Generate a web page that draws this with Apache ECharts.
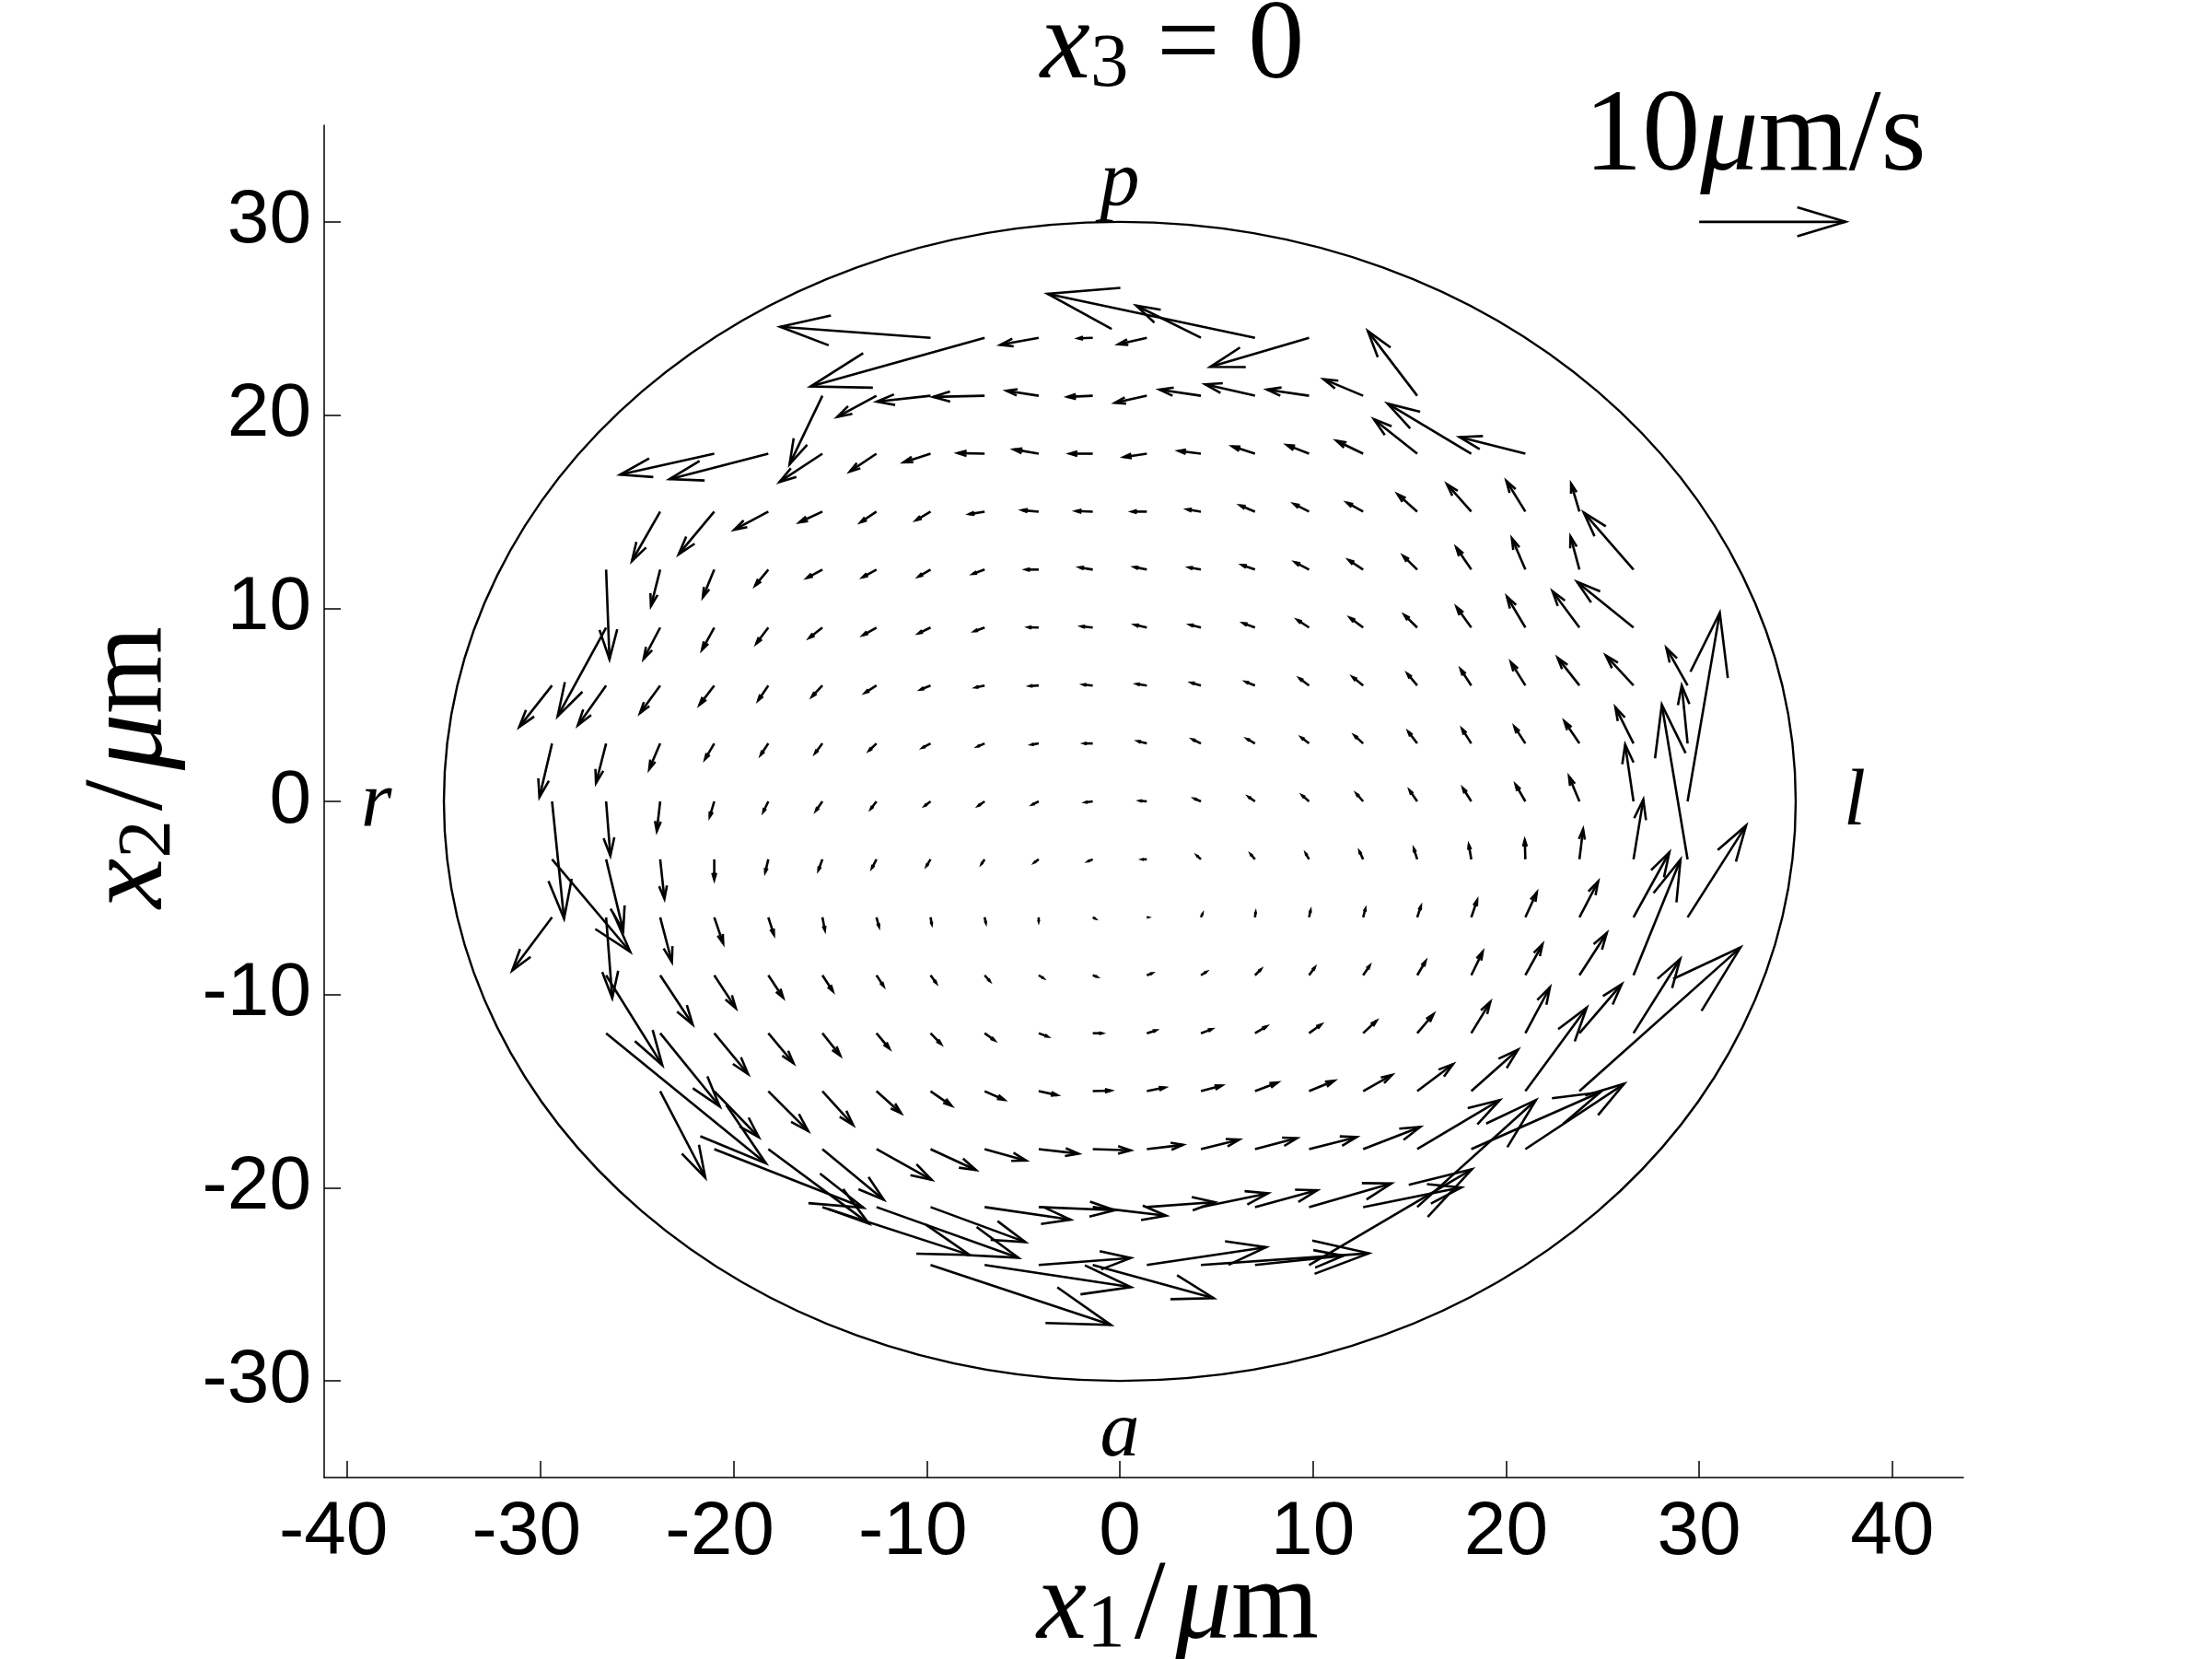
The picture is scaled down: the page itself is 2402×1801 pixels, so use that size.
<!DOCTYPE html>
<html>
<head>
<meta charset="utf-8">
<style>
  html, body { margin: 0; padding: 0; background: #fff; }
  #main { width: 2402px; height: 1801px; }
</style>
<script src="https://cdn.jsdelivr.net/npm/echarts@6/dist/echarts.min.js"></script>
</head>
<body>
<div id="main"></div>
<script>
// sample rows (x2, um) and first column of each row (x1, um), columns are 2.8 um apart
const rowX2 = [24, 21, 18, 15, 12, 9, 6, 3, 0, -3, -6, -9, -12, -15, -18, -21, -24];
const rowFirstX1 = [-9.8, -15.4, -21, -23.8, -26.6, -26.6, -29.4, -29.4, -29.4, -29.4, -29.4, -26.6, -26.6, -23.8, -21, -15.4, -9.8];
const colStep = 2.8;

// velocity, um/s, one list per row
const uRows = [
  [-10.27, -11.89, -2.62, -0.99, -1.95, -4.42, -14.17, -6.75],
  [-2.24, -2.68, -3.67, -3.52, -2.20, -1.72, -2.18, -2.83, -3.40, -2.87, -2.70, -3.37],
  [-6.43, -6.75, -2.93, -1.82, -1.84, -1.84, -1.70, -1.57, -1.57, -1.53, -1.55, -1.51, -1.82, -2.96, -5.72, -4.49],
  [-1.93, -2.43, -2.33, -1.57, -1.09, -0.99, -1.05, -1.13, -1.15, -1.01, -0.94, -1.01, -1.03, -1.11, -1.34, -1.66, -1.30, -0.57],
  [0.23, -0.63, -0.78, -0.90, -1.05, -0.94, -0.82, -0.80, -0.88, -0.90, -0.86, -0.82, -0.88, -0.96, -0.99, -0.96, -1.03, -0.92, -0.61, -3.40],
  [-3.31, -1.13, -0.84, -0.82, -0.90, -0.92, -0.82, -0.69, -0.71, -0.78, -0.82, -0.75, -0.80, -0.80, -0.90, -0.88, -1.01, -1.26, -1.84, -3.86],
  [-2.24, -1.93, -1.38, -1.01, -0.69, -0.71, -0.78, -0.67, -0.61, -0.61, -0.65, -0.69, -0.65, -0.63, -0.65, -0.71, -0.67, -0.73, -0.99, -1.49, -1.89, -1.45],
  [-0.86, -0.69, -0.75, -0.63, -0.52, -0.50, -0.50, -0.54, -0.48, -0.48, -0.59, -0.61, -0.57, -0.54, -0.52, -0.59, -0.61, -0.63, -0.75, -1.03, -1.24, -0.40],
  [0.82, 0.29, -0.23, -0.31, -0.34, -0.44, -0.38, -0.38, -0.42, -0.42, -0.50, -0.48, -0.44, -0.44, -0.46, -0.46, -0.52, -0.57, -0.67, -0.71, -0.57, 2.20],
  [5.34, 1.17, 0.29, 0, -0.21, -0.27, -0.31, -0.27, -0.21, -0.29, -0.31, -0.31, -0.27, -0.29, -0.23, -0.25, -0.23, -0.17, -0.04, 0.25, 0.67, -1.76],
  [-2.72, 0.42, 0.80, 0.61, 0.38, 0.17, 0.17, 0.08, 0.08, 0, 0.15, 0.06, 0.10, 0.04, 0.10, 0.15, 0.25, 0.40, 0.78, 1.28, 2.45, 4.00],
  [3.84, 2.22, 1.47, 1.01, 0.71, 0.48, 0.38, 0.34, 0.31, 0.27, 0.34, 0.36, 0.40, 0.38, 0.44, 0.57, 0.78, 1.17, 1.87, 3.21],
  [10.92, 4.07, 2.31, 1.72, 1.22, 0.88, 0.71, 0.67, 0.61, 0.63, 0.61, 0.73, 0.78, 0.82, 0.90, 1.11, 1.30, 1.68, 2.89, 3.19],
  [3.08, 3.04, 2.72, 2.10, 1.68, 1.43, 1.34, 1.26, 1.24, 1.24, 1.43, 1.55, 1.72, 1.97, 2.45, 3.19, 4.19, 11.00],
  [10.19, 6.87, 4.19, 3.77, 3.10, 2.83, 2.72, 2.58, 2.47, 2.62, 2.87, 3.25, 3.90, 5.64, 8.80, 6.75],
  [10.06, 9.70, 6.48, 5.87, 5.20, 5.01, 4.63, 4.59, 4.25, 5.62, 6.71, 8.11],
  [12.32, 10.00, 6.29, 8.26, 8.15, 11.47, 6.04, 11.13]
];
const vRows = [
  [0.75, -3.33, -0.48, -0.04, -0.44, 2.20, 3.00, -1.99],
  [-4.67, -1.45, -0.40, -0.08, 0.34, -0.08, -0.48, 0.42, 0.78, 0.42, 1.13, 4.42],
  [-1.43, -1.74, -1.93, -1.22, -0.59, 0.04, 0.29, 0, -0.23, 0.19, 0.50, 0.59, 0.88, 2.35, 3.42, 1.13],
  [-3.37, -2.91, -1.24, -0.73, -0.73, -0.59, -0.17, 0.10, 0.04, 0, 0.15, 0.42, 0.52, 0.61, 1.19, 1.87, 2.10, 1.91],
  [-6.12, -2.49, -1.89, -1.09, -0.57, -0.52, -0.48, -0.29, 0, 0.15, 0.17, 0.15, 0.31, 0.50, 0.65, 0.94, 1.51, 2.14, 2.26, 3.90],
  [-6.06, -2.14, -1.53, -1.09, -0.71, -0.52, -0.40, -0.25, 0.02, 0.08, 0.19, 0.19, 0.29, 0.52, 0.67, 0.86, 1.40, 2.12, 2.47, 3.12],
  [-2.83, -2.72, -1.89, -1.32, -1.01, -0.75, -0.50, -0.27, -0.13, -0.04, 0.06, 0.10, 0.19, 0.25, 0.48, 0.57, 0.80, 1.11, 1.59, 1.89, 2.05, 2.56],
  [-3.67, -2.70, -1.76, -1.07, -0.78, -0.67, -0.48, -0.29, -0.21, -0.08, 0, 0.15, 0.27, 0.31, 0.40, 0.54, 0.80, 0.99, 1.15, 1.51, 2.47, 3.96],
  [-8.01, -3.71, -2.03, -1.05, -0.71, -0.63, -0.50, -0.29, -0.29, -0.21, -0.06, 0.04, 0.19, 0.31, 0.40, 0.52, 0.75, 0.90, 1.15, 1.70, 3.88, 12.89],
  [-6.31, -4.86, -2.70, -1.38, -0.88, -0.73, -0.59, -0.44, -0.31, -0.21, -0.13, 0, 0.25, 0.34, 0.40, 0.54, 0.73, 0.99, 1.32, 2.05, 4.09, 10.56],
  [-3.63, -5.51, -3.06, -1.78, -1.19, -0.88, -0.63, -0.46, -0.38, -0.27, -0.08, 0, 0.23, 0.34, 0.46, 0.57, 0.75, 1.17, 1.70, 2.45, 4.44, 6.27],
  [-6.14, -3.37, -2.24, -1.53, -1.09, -0.73, -0.52, -0.38, -0.19, -0.10, 0.13, 0.23, 0.40, 0.52, 0.65, 0.96, 1.61, 2.12, 2.89, 7.90],
  [-8.89, -5.01, -2.79, -2.05, -1.53, -1.05, -0.73, -0.48, -0.23, 0, 0.19, 0.27, 0.46, 0.59, 0.84, 1.30, 2.14, 3.14, 3.35, 5.07],
  [-5.91, -3.14, -2.72, -2.31, -1.51, -0.99, -0.59, -0.27, 0.04, 0.25, 0.38, 0.59, 0.71, 1.11, 1.84, 2.83, 5.70, 9.81],
  [-4.00, -5.09, -3.46, -2.10, -1.43, -0.78, -0.31, -0.08, 0.29, 0.65, 0.75, 0.82, 1.51, 3.35, 3.88, 4.46],
  [-3.27, -3.46, -2.39, -0.86, -0.21, -0.59, 0.34, 0.94, 1.15, 1.61, 1.34, 7.31],
  [-4.09, -1.51, 0.48, -2.26, 1.22, 0.80, 0.63, 6.54]
];

// reference arrow, x1, x2, u, v
const scaleArrow = [[30, 30, 10, 0]];
// cell outline semi axes, um
const cellRadii = [35, 30];
const xTicks = [-40, -30, -20, -10, 0, 10, 20, 30, 40];
const yTicks = [-30, -20, -10, 0, 10, 20, 30];
// side letters, name and place
const sideLetters = [['p', 0, 32.0], ['a', 0, -32.8], ['r', -38.5, -0.2], ['l', 38.05, -0.1]];

const quiverScale = 0.758; // axis um drawn per um/s
const headLen = 0.33;
const headWidth = 0.3;

const chart = echarts.init(document.getElementById('main'), null, { renderer: 'canvas' });

let arrows = [];
rowX2.forEach(function (x2, r) {
  uRows[r].forEach(function (u, c) {
    arrows.push([rowFirstX1[r] + c * colStep, x2, u, vRows[r][c]]);
  });
});

function renderArrow (params, api) {
  const x = api.value(0), y = api.value(1);
  const du = api.value(2) * quiverScale, dv = api.value(3) * quiverScale;
  const tipX = x + du, tipY = y + dv;
  const tail = api.coord([x, y]);
  const tip = api.coord([tipX, tipY]);
  const barbA = api.coord([tipX - headLen * (du + headWidth * dv), tipY - headLen * (dv - headWidth * du)]);
  const barbB = api.coord([tipX - headLen * (du - headWidth * dv), tipY - headLen * (dv + headWidth * du)]);
  const st = { stroke: '#000', fill: null, lineWidth: 2.6 };
  return {
    type: 'group',
    children: [
      { type: 'line', shape: { x1: tail[0], y1: tail[1], x2: tip[0], y2: tip[1] }, style: st },
      { type: 'polyline', shape: { points: [barbA, tip, barbB] }, style: st }
    ]
  };
}

function mathStyle (size) {
  return {
    i: { fontFamily: 'Liberation Serif', fontStyle: 'italic', fontWeight: 'normal', fontSize: size, color: '#000' },
    n: { fontFamily: 'Liberation Serif', fontWeight: 'normal', fontSize: size, color: '#000' },
    s: { fontFamily: 'Liberation Serif', fontWeight: 'normal', fontSize: size * 0.68, color: '#000', padding: [size * 0.32, 0, 0, 0] }
  };
}

const tickFont = { fontFamily: 'Liberation Sans', fontSize: 82, color: '#000' };

chart.setOption({
  animation: false,
  backgroundColor: '#fff',
  title: {
    text: '{i|x}{s|3}{n| = 0}',
    left: 1268,
    top: -14,
    textAlign: 'center',
    textStyle: { rich: mathStyle(122) }
  },
  grid: { left: 352, right: 270, top: 136, bottom: 197, outerBoundsMode: 'none' },
  xAxis: {
    type: 'value',
    min: -41.2,
    max: 43.68,
    name: '{i|x}{s|1}{n|\u200A/\u200A}{i|μ}{n|m}',
    nameLocation: 'middle',
    nameGap: 81,
    nameMoveOverlap: false,
    nameTextStyle: { rich: mathStyle(122), padding: [0, 0, 0, 74] },
    axisLine: { onZero: false, lineStyle: { color: '#000', width: 1.5 } },
    axisTick: { inside: true, length: 18, customValues: xTicks, lineStyle: { color: '#000', width: 1.5 } },
    axisLabel: {
      customValues: xTicks,
      color: '#000',
      fontFamily: 'Liberation Sans',
      fontSize: 82,
      margin: 19,
      formatter: function (val) { return val < 0 ? '{neg|' + val + '}' : String(val); },
      rich: { neg: Object.assign({ padding: [0, 30, 0, 0] }, tickFont) }
    },
    splitLine: { show: false }
  },
  yAxis: {
    type: 'value',
    min: -35,
    max: 35,
    name: '{i|x}{s|2}{n|\u200A/\u200A}{i|μ}{n|m}',
    nameLocation: 'middle',
    nameGap: 148,
    nameMoveOverlap: false,
    nameTextStyle: { rich: mathStyle(122), padding: [0, 0, 0, 74] },
    axisLine: { onZero: false, lineStyle: { color: '#000', width: 1.5 } },
    axisTick: { inside: true, length: 18, customValues: yTicks, lineStyle: { color: '#000', width: 1.5 } },
    axisLabel: { customValues: yTicks, color: '#000', fontFamily: 'Liberation Sans', fontSize: 82, margin: 14 },
    splitLine: { show: false }
  },
  series: [
    {
      type: 'custom',
      name: 'outline',
      coordinateSystem: 'cartesian2d',
      silent: true,
      data: [[0, 0]],
      renderItem: function (params, api) {
        const c = api.coord([0, 0]);
        const size = api.size(cellRadii);
        return {
          type: 'ellipse',
          shape: { cx: c[0], cy: c[1], rx: size[0], ry: size[1] },
          style: { stroke: '#000', fill: null, lineWidth: 2.4 }
        };
      }
    },
    {
      type: 'custom',
      name: 'velocity',
      coordinateSystem: 'cartesian2d',
      silent: true,
      data: arrows,
      renderItem: renderArrow
    },
    {
      type: 'custom',
      name: 'scale',
      coordinateSystem: 'cartesian2d',
      silent: true,
      data: scaleArrow,
      renderItem: renderArrow
    },
    {
      type: 'scatter',
      name: 'letters',
      symbolSize: 0,
      silent: true,
      itemStyle: { opacity: 1 },
      data: sideLetters.map(function (d) { return { value: [d[1], d[2]], name: d[0] }; }),
      label: {
        show: true,
        position: 'inside',
        formatter: '{b}',
        color: '#000',
        opacity: 1,
        fontFamily: 'Liberation Serif',
        fontStyle: 'italic',
        fontSize: 86
      }
    },
    {
      type: 'scatter',
      name: 'scale label',
      symbolSize: 0,
      silent: true,
      itemStyle: { opacity: 1 },
      data: [{ value: [32.9, 34.3], name: '10μm/s' }],
      label: {
        show: true,
        position: 'inside',
        opacity: 1,
        formatter: '{n|10}{i|μ}{n|m/s}',
        rich: {
          n: { fontFamily: 'Liberation Serif', fontSize: 126, color: '#000' },
          i: { fontFamily: 'Liberation Serif', fontStyle: 'italic', fontSize: 126, color: '#000' }
        }
      }
    }
  ]
});
</script>
</body>
</html>
